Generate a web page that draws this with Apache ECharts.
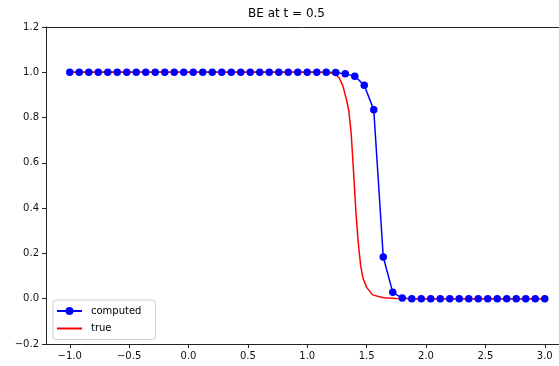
<!DOCTYPE html>
<html>
<head>
<meta charset="utf-8">
<script src="https://cdn.jsdelivr.net/npm/echarts@6/dist/echarts.min.js"></script>
<style>
  html, body { margin: 0; padding: 0; background: #fff; }
  #chart { width: 559px; height: 366px; }
</style>
</head>
<body>
<div id="chart"></div>
<script>
// computed solution, dots every 0.08
const computedX = [
  -1.0, -0.92, -0.84, -0.76, -0.68, -0.6, -0.52, -0.44, -0.36, -0.28,
  -0.2, -0.12, -0.04, 0.04, 0.12, 0.2, 0.28, 0.36, 0.44, 0.52,
  0.6, 0.68, 0.76, 0.84, 0.92, 1.0, 1.08, 1.16, 1.24, 1.32,
  1.4, 1.48, 1.56, 1.64, 1.72, 1.8, 1.88, 1.96, 2.04, 2.12,
  2.2, 2.28, 2.36, 2.44, 2.52, 2.6, 2.68, 2.76, 2.84, 2.92, 3.0
];
const computedY = [
  1, 1, 1, 1, 1, 1, 1, 1, 1, 1,
  1, 1, 1, 1, 1, 1, 1, 1, 1, 1,
  1, 1, 1, 1, 1, 1, 1, 1, 0.999, 0.993,
  0.983, 0.943, 0.834, 0.184, 0.028, 0.003, 0, 0, 0, 0,
  0, 0, 0, 0, 0, 0, 0, 0, 0, 0, 0
];

// exact solution
const trueX = [-1.0, 1.0, 1.15, 1.2, 1.24, 1.27, 1.3, 1.33, 1.35, 1.37, 1.39, 1.41, 1.43, 1.45, 1.47, 1.5, 1.55, 1.64, 1.75, 3.0];
const trueY = [1.0, 1.0, 0.999, 0.997, 0.99, 0.975, 0.94, 0.88, 0.83, 0.73, 0.56, 0.38, 0.245, 0.145, 0.09, 0.05, 0.017, 0.004, 0.001, 0];

const xTicks = [-1.0, -0.5, 0.0, 0.5, 1.0, 1.5, 2.0, 2.5, 3.0];
const yTicks = [-0.2, 0.0, 0.2, 0.4, 0.6, 0.8, 1.0, 1.2];

const FONT = "DejaVu Sans";
const AXIS_COLOR = "#222";
const fmt = (v) => v.toFixed(1).replace("-", "\u2212");

const chart = echarts.init(document.getElementById("chart"), null, { renderer: "canvas" });

// the axes run past the right edge of the picture, so the visible x range stops at ~3.12
chart.setOption({
  animation: false,
  title: {
    text: "BE at t = 0.5",
    left: 248,
    top: 8,
    padding: 0,
    textStyle: { fontFamily: FONT, fontSize: 12, fontWeight: "normal", color: "#000" }
  },
  legend: {
    left: 53,
    top: 300,
    orient: "vertical",
    padding: [5, 14, 5, 3],
    itemWidth: 25,
    itemHeight: 10,
    itemGap: 5.5,
    backgroundColor: "rgba(255,255,255,0.8)",
    borderColor: "#cccccc",
    borderWidth: 1,
    borderRadius: 3,
    textStyle: { fontFamily: FONT, fontSize: 10, color: "#000", lineHeight: 12, padding: [0, 0, 0, 4] },
    data: ["computed", { name: "true", itemStyle: { opacity: 0 } }]
  },
  grid: { left: 46, top: 27, right: 0, height: 317 },
  xAxis: [
    {
      type: "value",
      min: -1.2,
      max: 3.12,
      position: "bottom",
      splitLine: { show: false },
      axisLine: { onZero: false, lineStyle: { color: AXIS_COLOR, width: 1 } },
      axisTick: { length: 4, customValues: xTicks, lineStyle: { color: AXIS_COLOR } },
      axisLabel: {
        customValues: xTicks,
        margin: 7,
        formatter: fmt,
        fontFamily: FONT,
        fontSize: 10,
        color: "#111"
      }
    },
    {
      type: "value",
      min: -1.2,
      max: 3.12,
      position: "top",
      splitLine: { show: false },
      axisLine: { onZero: false, lineStyle: { color: AXIS_COLOR, width: 1 } },
      axisTick: { show: false },
      axisLabel: { show: false }
    }
  ],
  yAxis: {
    type: "value",
    min: -0.2,
    max: 1.2,
    splitLine: { show: false },
    axisLine: { show: true, onZero: false, lineStyle: { color: AXIS_COLOR, width: 1 } },
    axisTick: { show: true, length: 4, customValues: yTicks, lineStyle: { color: AXIS_COLOR } },
    axisLabel: {
      customValues: yTicks,
      margin: 7,
      formatter: fmt,
      fontFamily: FONT,
      fontSize: 10,
      color: "#111"
    }
  },
  series: [
    {
      name: "computed",
      type: "line",
      data: computedX.map((x, i) => [x, computedY[i]]),
      symbol: "circle",
      symbolSize: 7.5,
      showSymbol: true,
      color: "#0000ff",
      itemStyle: { color: "#0000ff" },
      lineStyle: { color: "#0000ff", width: 1.5 }
    },
    {
      name: "true",
      type: "line",
      data: trueX.map((x, i) => [x, trueY[i]]),
      symbol: "none",
      color: "#ff0000",
      lineStyle: { color: "#ff0000", width: 1.5 }
    }
  ]
});
</script>
</body>
</html>
